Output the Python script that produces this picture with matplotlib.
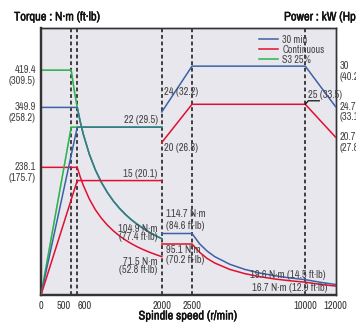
import matplotlib
matplotlib.use('Agg')
import matplotlib.pyplot as plt
import matplotlib.transforms as mtransforms
import matplotlib.patheffects as pe
from matplotlib.lines import Line2D
import numpy as np

plt.rcParams['font.family'] = ['Archivo Narrow', 'DejaVu Sans']

# speed axis: linear up to 2500, compressed above
speed_ticks = [0, 500, 600, 2000, 2500, 10000, 12000]
speed_lines = [500, 600, 2000, 2500, 10000]

# torque (N·m), low winding
s3_speed = [0, 500, 550, 600, 650, 700, 800, 900, 1000, 1100, 1200, 1300, 1400, 1500, 1600, 1700, 1800, 1900, 2000]
s3_torque = [419.4, 419.4, 382, 349.9, 323, 300, 262.6, 233.4, 210, 191, 175, 161.6, 150, 140, 131.3, 123.6, 116.7, 110.6, 104.9]
m30_speed = [0, 600, 650, 700, 800, 900, 1000, 1100, 1200, 1300, 1400, 1500, 1600, 1700, 1800, 1900, 2000]
m30_torque = [349.9, 349.9, 323, 300, 262.6, 233.4, 210, 191, 175, 161.6, 150, 140, 131.3, 123.6, 116.7, 110.6, 104.9]
cont_torque = [238.1, 238.1, 220, 204.6, 179, 159, 143.2, 130.2, 119.4, 110.2, 102.3, 95.5, 89.5, 84.3, 79.6, 75.4, 71.5]

# torque (N·m), high winding
hi_speed = [2000, 2500, 3000, 3500, 4000, 5000, 6000, 7000, 8000, 9000, 10000, 11000, 12000]
m30_torque_hi = [114.7, 114.7, 95.5, 81.9, 71.6, 57.3, 47.7, 40.9, 35.8, 31.8, 28.6, 23.7, 19.6]
cont_torque_hi = [95.1, 95.1, 79.6, 68.2, 59.7, 47.7, 39.8, 34.1, 29.8, 26.5, 23.9, 19.8, 16.7]

# power (kW)
s3_pw_speed = [0, 500, 2000]
s3_power = [0, 22, 22]
lo_pw_speed = [0, 600, 2000]
m30_power = [0, 22, 22]
cont_power = [0, 15, 15]
hi_pw_speed = [2000, 2500, 10000, 12000]
m30_power_hi = [24, 30, 30, 24.7]
cont_power_hi = [20, 25, 25, 20.7]

blue = '#3c62a6'
red = '#e0102e'
green = '#2fb34e'
grey = '#444444'

k = 0.25
def fwd(x):
    x = np.asarray(x, dtype=float)
    return np.where(x <= 2500, x, 2500 + (x - 2500) * k)
def inv(x):
    x = np.asarray(x, dtype=float)
    return np.where(x <= 2500, x, 2500 + (x - 2500) / k)

fig = plt.figure(figsize=(3.56, 3.25), dpi=100)
ax = fig.add_axes([41/356, 30/325, 294.5/356, 267/325])
ax.set_facecolor('#e8e7ee')
ax.set_xscale('function', functions=(fwd, inv))
ax.set_xlim(0, 12000)
ax.set_ylim(0, 498)
ax2 = ax.twinx()
ax2.set_ylim(0, 35)

lw = 1.1
# green under blue, then a faint green on top so shared parts look teal
ax.plot(s3_speed, s3_torque, color=green, lw=lw, label='S3 25%', zorder=2)
ax.plot(m30_speed, m30_torque, color=blue, lw=lw, label='30 min', zorder=3)
ax.plot(m30_speed, cont_torque, color=red, lw=lw, label='Continuous', zorder=3)
ax.plot(s3_speed, s3_torque, color=green, lw=lw, alpha=0.3, zorder=4)
ax.plot(hi_speed, m30_torque_hi, color=blue, lw=lw, zorder=3)
ax.plot(hi_speed, cont_torque_hi, color=red, lw=lw, zorder=3)

ax2.plot(s3_pw_speed, s3_power, color=green, lw=lw, zorder=2)
ax2.plot(lo_pw_speed, m30_power, color=blue, lw=lw, zorder=3)
ax2.plot(lo_pw_speed, cont_power, color=red, lw=lw, zorder=3)
ax2.plot(s3_pw_speed, s3_power, color=green, lw=lw, alpha=0.3, zorder=4)
ax2.plot(hi_pw_speed, m30_power_hi, color=blue, lw=lw, zorder=3)
ax2.plot(hi_pw_speed, cont_power_hi, color=red, lw=lw, zorder=3)

for s in speed_lines:
    ax.axvline(s, color='#111111', lw=1.1, ls=(0, (2.5, 1.8)), zorder=1)

for a in (ax, ax2):
    for side in ['top', 'right']:
        a.spines[side].set_color('#333333')
        a.spines[side].set_linewidth(1.0)
    for side in ['left', 'bottom']:
        a.spines[side].set_color('#333333')
        a.spines[side].set_linewidth(1.6)
    a.set_yticks([])
ax.set_xticks(speed_ticks)
ax.set_xticklabels([str(t) for t in speed_ticks])
ax.tick_params(axis='x', length=0, pad=4, labelsize=7.5, labelcolor='#333333')
labs = ax.get_xticklabels()
labs[1].set_ha('right')
labs[2].set_ha('left')

fs = 7.5
# torque labels on left
tl = [(419.4, '419.4', '(309.5)'), (349.9, '349.9', '(258.2)'), (238.1, '238.1', '(175.7)')]
for v, a_, b_ in tl:
    ax.annotate(a_, (0, v), xytext=(-5, 0), textcoords='offset pixels', ha='right', va='center', fontsize=fs, color=grey, annotation_clip=False)
    ax.annotate(b_, (0, v), xytext=(-5, -11), textcoords='offset pixels', ha='right', va='center', fontsize=fs, color=grey, annotation_clip=False)
# power labels on right
pl = [(30, '30', '(40.2)'), (24.7, '24.7', '(33.1)'), (20.7, '20.7', '(27.8)')]
for v, a_, b_ in pl:
    ax2.annotate(a_, (12000, v), xytext=(4.5, 0), textcoords='offset pixels', ha='left', va='center', fontsize=fs, color=grey, annotation_clip=False)
    ax2.annotate(b_, (12000, v), xytext=(4.5, -10.5), textcoords='offset pixels', ha='left', va='center', fontsize=fs, color=grey, annotation_clip=False)

def note(a, txt, xy, dx, dy, ha):
    a.annotate(txt, xy, xytext=(dx, dy), textcoords='offset pixels', ha=ha, va='center', fontsize=fs, color=grey, annotation_clip=False, zorder=5)

note(ax2, '22 (29.5)', (2000, 22), -4, 7, 'right')
note(ax2, '15 (20.1)', (2000, 15), -4, 6.5, 'right')
note(ax2, '24 (32.2)', (2000, 24), 2.5, 19.5, 'left')
note(ax2, '20 (26.8)', (2000, 20), 2.5, -5.5, 'left')
note(ax2, '25 (33.5)', (10000, 25), 3, 9, 'left')
note(ax, '104.9 N·m', (2000, 104.9), -4, 10, 'right')
note(ax, '(77.4 ft·lb)', (2000, 104.9), -4, 1.5, 'right')
note(ax, '71.5 N·m', (2000, 71.5), -4, -5, 'right')
note(ax, '(52.8 ft·lb)', (2000, 71.5), -4, -13.5, 'right')
note(ax, '114.7 N·m', (2000, 114.7), 4, 19.5, 'left')
note(ax, '(84.6 ft·lb)', (2000, 114.7), 4, 7.5, 'left')
note(ax, '95.1 N·m', (2000, 95.1), 4, -6, 'left')
note(ax, '(70.2 ft·lb)', (2000, 95.1), 4, -16, 'left')
note(ax, '19.6 N·m (14.5 ft·lb)', (12000, 19.6), -9.5, 9.5, 'right')
note(ax, '16.7 N·m (12.9 ft·lb)', (12000, 16.7), -8.5, -2, 'right')

# leader for 25 (33.5)
x0, y0 = ax2.transData.transform((10000, 25))
fig.add_artist(Line2D([x0, x0 + 3, x0 + 14], [y0, y0 + 3.5, y0 + 3.5], color='#111111', lw=0.9,
                      transform=mtransforms.IdentityTransform()))

leg = ax2.legend(handles=[ax.lines[1], ax.lines[2], ax.lines[0]], loc='upper right', bbox_to_anchor=(0.99, 1.005),
                 frameon=False, fontsize=7.2, handlelength=1.9, handletextpad=0.45, labelspacing=0.0, borderpad=0.3)
for t in leg.get_texts():
    t.set_color(grey)

bold = [pe.withStroke(linewidth=0.3, foreground='#111111')]
fig.text(14/356, 1 - 17/325, 'Torque : N·m (ft·lb)', ha='left', va='center', fontsize=9, color='#111111', path_effects=bold)
fig.text(284/356, 1 - 17/325, 'Power : kW (Hp)', ha='left', va='center', fontsize=9, color='#111111', path_effects=bold)
fig.text(188/356, 1 - 316/325, 'Spindle speed (r/min)', ha='center', va='center', fontsize=9, color='#111111', path_effects=bold)

fig.savefig('out.png', dpi=100)
